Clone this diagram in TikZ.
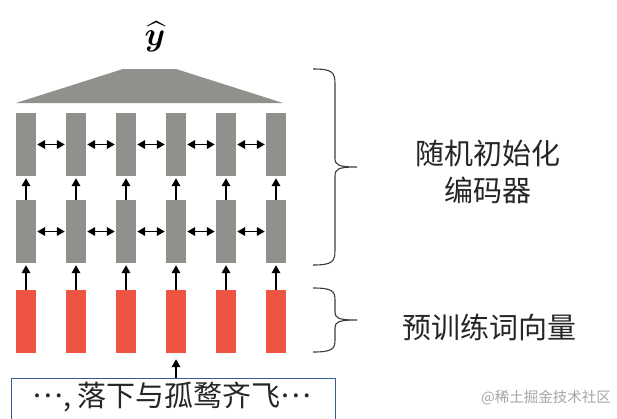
\documentclass[tikz,border=0pt]{standalone}
\usepackage{fontspec}
\usepackage{amsmath}
\usepackage{graphicx}
\newfontfamily\cjk{Noto Sans CJK SC}
\usetikzlibrary{arrows.meta}
\definecolor{barGray}{RGB}{143,146,140}
\definecolor{barRed}{RGB}{238,84,66}
\definecolor{boxBlue}{RGB}{60,90,150}
\definecolor{braceGray}{RGB}{60,60,60}
\begin{document}
\begin{tikzpicture}[x=1pt,y=-1pt,
  graybar/.style={fill=barGray, minimum width=20pt, minimum height=63pt, inner sep=0pt},
  redbar/.style={graybar, fill=barRed},
  uparrow/.style={-{Triangle[length=8pt,width=8.5pt]}, line width=1.8pt, black},
  dblarrow/.style={{Triangle[length=8pt,width=8.5pt]}-{Triangle[length=8pt,width=8.5pt]}, line width=1.8pt, black, shorten <=1pt, shorten >=1pt},
  bracepath/.style={draw=braceGray, line width=1.1pt},
  cjklabel/.style={font=\cjk\fontsize{29}{37}\selectfont, text=black!85, align=center},
  inputbox/.style={draw=boxBlue, line width=1.4pt, minimum width=324pt, minimum height=60pt, inner sep=0pt, anchor=north west}
]
\useasboundingbox (0,0) rectangle (617,418);
\clip (0,0) rectangle (617,418);
\fill[white] (0,0) rectangle (617,418);
% output
\node (yhat) at (155,37) {\scalebox{3.3}{$\boldsymbol{\widehat{y}}$}};
\fill[barGray] (16,103) -- (123,69) -- (176,69) -- (283,103) -- cycle;
% bars
\foreach \i in {1,...,6} {
  \pgfmathsetmacro\xx{26+50*(\i-1)}
  \node[graybar] (t\i) at (\xx,144.5) {};
  \node[graybar] (m\i) at (\xx,231.5) {};
  \node[redbar] (r\i) at (\xx,321.5) {};
}
\foreach \i in {1,...,6} {
  \draw[uparrow, shorten >=2pt] (m\i.north) -- (t\i.south);
  \draw[uparrow, shorten >=2pt] (r\i.north) -- (m\i.south);
}
\foreach \i [evaluate=\i as \j using int(\i+1)] in {1,...,5} {
  \draw[dblarrow] (t\i.east) -- (t\j.west);
  \draw[dblarrow] (m\i.east) -- (m\j.west);
}
% input
\node[inputbox] (box) at (11,378) {};
\node[font=\cjk\fontsize{29}{29}\selectfont, text=black!85] (boxtext) at (172,397) {\raisebox{0.3em}{…}, 落下与孤鹜齐飞\raisebox{0.3em}{…}};
\draw[uparrow, shorten >=6pt] (r4.south |- box.north) -- (r4.south);
% braces
\draw[bracepath] (313,69) .. controls (332,69) and (335,72) .. (335,84) -- (335,158)
  .. controls (335,165) and (338,167) .. (357,167)
  .. controls (338,167) and (335,169) .. (335,176) -- (335,250)
  .. controls (335,262) and (332,265) .. (313,265);
\draw[bracepath] (313,288) .. controls (332,288) and (335,291) .. (335,300) -- (335,312)
  .. controls (335,318) and (338,320) .. (357,320)
  .. controls (338,320) and (335,322) .. (335,328) -- (335,340)
  .. controls (335,349) and (332,352) .. (313,352);
% labels
\node[cjklabel] (enc) at (488,171.5) {随机初始化\\编码器};
\node[cjklabel] (emb) at (489,327) {预训练词向量};
\node[font=\cjk\fontsize{14.5}{14.5}\selectfont, text=black!35] (wm) at (546,398) {@稀土掘金技术社区};
\end{tikzpicture}
\end{document}
